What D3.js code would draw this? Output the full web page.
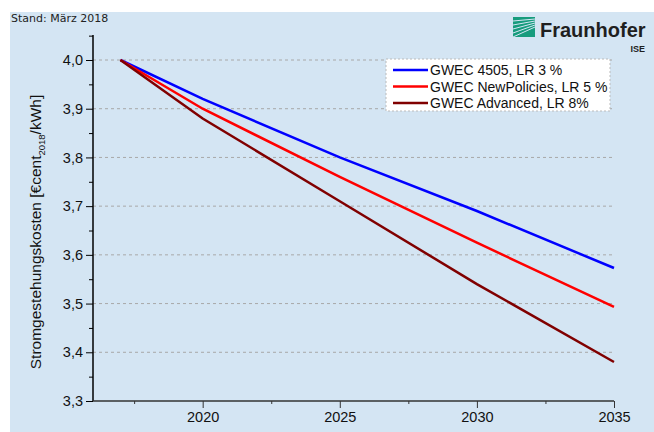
<!DOCTYPE html>
<html><head><meta charset="utf-8">
<script src="https://cdn.jsdelivr.net/npm/d3@7"></script>
<style>body{margin:0;background:#fff}svg{display:block;font-family:"Liberation Sans",Arial,sans-serif}</style>
</head><body>
<svg id="c" width="654" height="432"></svg>
<script>
var years = [2017, 2020, 2025, 2030, 2035];
var gwec4505 = [4.0, 3.92, 3.80, 3.69, 3.573];
var gwecNewPolicies = [4.0, 3.90, 3.76, 3.625, 3.493];
var gwecAdvanced = [4.0, 3.88, 3.71, 3.54, 3.38];
var seriesNames = ["GWEC 4505, LR 3 %", "GWEC NewPolicies, LR 5 %", "GWEC Advanced, LR 8%"];
var seriesColors = ["#0000ff", "#ff0000", "#800000"];
var xTicks = [2020, 2025, 2030, 2035];
var yTicks = [3.3, 3.4, 3.5, 3.6, 3.7, 3.8, 3.9, 4.0];

var svg = d3.select("#c");
svg.append("rect").attr("x", 10).attr("y", 12).attr("width", 644).attr("height", 420).attr("fill", "#d4e5f3");
svg.append("text").attr("x", 11).attr("y", 22).style("font-family", "DejaVu Sans").style("font-size", "11px").attr("fill", "#222").text("Stand: März 2018");

var x = d3.scaleLinear().domain([2016, 2035]).range([93, 614]);
var y = d3.scaleLinear().domain([3.3, 4.0]).range([401, 60]);

// grid
svg.append("g").selectAll("line").data(yTicks.slice(1)).enter().append("line")
  .attr("x1", 93).attr("x2", 614).attr("y1", y).attr("y2", y)
  .attr("stroke", "#a8a8a8").attr("stroke-dasharray", "3,3").attr("stroke-width", 1);

var yAxis = d3.axisLeft(y).tickValues(d3.range(3.3, 4.051, 0.05)).tickSize(5)
  .tickFormat(function(d){ var r = Math.round(d*100); return r % 10 ? "" : d3.format(".1f")(d).replace(".", ","); });
var gy = svg.append("g").attr("transform", "translate(93,0)").call(yAxis);
gy.select(".domain").attr("d", "M0,35V401").attr("stroke", "#000").attr("stroke-width", 1.5);
gy.selectAll(".tick line").attr("stroke", "#000").attr("x2", function(d){ return Math.round(d*100) % 10 ? -4 : -7; });
gy.selectAll(".tick text").attr("x", -10).style("font-size", "14.5px").attr("fill", "#111");

var xAxis = d3.axisBottom(x).tickValues(d3.range(2017.5, 2035.1, 2.5)).tickSize(6)
  .tickFormat(function(d){ return d % 5 ? "" : d; });
var gx = svg.append("g").attr("transform", "translate(0,401)").call(xAxis);
gx.select(".domain").attr("d", "M93,0H614").attr("stroke", "#333").attr("stroke-width", 1.5);
gx.selectAll(".tick line").attr("stroke", "#333").attr("y2", function(d){ return d % 5 ? 3 : 7; });
gx.selectAll(".tick text").attr("y", 11).style("font-size", "14.5px").attr("fill", "#111");

var line = d3.line().x(function(d, i){ return x(years[i]); }).y(function(d){ return y(d); });
[gwec4505, gwecNewPolicies, gwecAdvanced].forEach(function(s, i){
  svg.append("path").attr("d", line(s)).attr("fill", "none").attr("stroke", seriesColors[i]).attr("stroke-width", 2.5);
});

// y label
var yl = svg.append("text").attr("transform", "translate(41,232) rotate(-90)").attr("text-anchor", "middle")
  .style("font-size", "15.5px").attr("fill", "#111");
yl.append("tspan").text("Stromgestehungskosten [€cent");
yl.append("tspan").attr("dy", 4).style("font-size", "9.5px").text("2018");
yl.append("tspan").attr("dy", -4).text("/kWh]");

// legend
var lg = svg.append("g");
lg.append("rect").attr("x", 386).attr("y", 59).attr("width", 224).attr("height", 52).attr("fill", "#fff")
  .attr("stroke", "#bbb").attr("stroke-dasharray", "2,2");
seriesNames.forEach(function(n, i){
  var yy = 70 + i*16.5;
  lg.append("line").attr("x1", 393).attr("x2", 428).attr("y1", yy).attr("y2", yy).attr("stroke", seriesColors[i]).attr("stroke-width", 2.5);
  lg.append("text").attr("x", 430).attr("y", yy + 5).style("font-size", "14px").attr("fill", "#111").text(n);
});

// logo
var logo = svg.append("g");
logo.append("rect").attr("x", 513).attr("y", 17).attr("width", 22).attr("height", 20).attr("fill", "#179c7d");
[0,1,2,3,4].forEach(function(k){
  logo.append("line").attr("x1", 513).attr("y1", 37 - k*4).attr("x2", 535).attr("y2", 27 - k*2)
    .attr("stroke", "#d4e5f3").attr("stroke-width", 1);
});
logo.append("text").attr("x", 540).attr("y", 37).style("font-size", "20px").style("font-weight", "bold").attr("fill", "#1f1f1f").text("Fraunhofer");
logo.append("text").attr("x", 645).attr("y", 52).attr("text-anchor", "end").style("font-size", "9px").style("font-weight", "bold").attr("fill", "#1f1f1f").text("ISE");
</script>
</body></html>
